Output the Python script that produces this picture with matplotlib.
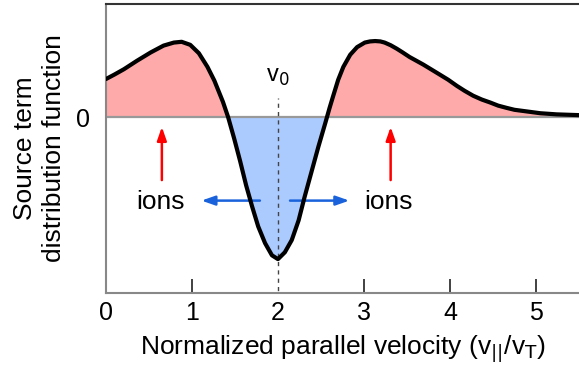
import matplotlib.pyplot as plt
import numpy as np

plt.rcParams["font.family"] = ["Liberation Sans", "DejaVu Sans"]

# source term (v in units of v_T)
velocity = [0.00, 0.10, 0.21, 0.36, 0.52, 0.67, 0.79, 0.88, 0.98, 1.08, 1.18, 1.26,
            1.31, 1.36, 1.42, 1.49, 1.56, 1.63, 1.70, 1.77, 1.85, 1.93, 2.00, 2.08,
            2.16, 2.24, 2.31, 2.39, 2.47, 2.55, 2.60, 2.64, 2.70, 2.76, 2.84, 2.92,
            3.01, 3.07, 3.13, 3.19, 3.24, 3.31, 3.38, 3.45, 3.53, 3.61, 3.69, 3.77,
            3.85, 3.98, 4.08, 4.17, 4.27, 4.37, 4.47, 4.56, 4.66, 4.75, 4.85, 5.05,
            5.24, 5.50]
source = [0.50, 0.56, 0.63, 0.74, 0.85, 0.94, 0.98, 0.99, 0.95, 0.84, 0.66, 0.48,
          0.34, 0.20, 0.00, -0.28, -0.58, -0.90, -1.18, -1.44, -1.66, -1.82, -1.87,
          -1.78, -1.62, -1.36, -1.05, -0.72, -0.39, -0.08, 0.12, 0.27, 0.49, 0.66,
          0.82, 0.92, 0.98, 0.995, 1.00, 0.995, 0.98, 0.945, 0.90, 0.85, 0.79, 0.74,
          0.69, 0.635, 0.58, 0.49, 0.41, 0.345, 0.28, 0.23, 0.19, 0.15, 0.12, 0.095,
          0.08, 0.05, 0.035, 0.025]

v0 = 2.0
xticks = [0, 1, 2, 3, 4, 5]
ion_x = [0.65, 3.31]

v = np.array(velocity)
s = np.array(source)

fig = plt.figure(figsize=(5.79, 3.67), dpi=100)
ax = fig.add_axes([0.183, 0.2016, 0.817, 0.7874])

ax.fill_between(v, s, 0, where=s >= 0, interpolate=True, color="#ffaaaa", lw=0)
ax.fill_between(v, s, 0, where=s <= 0, interpolate=True, color="#abcbff", lw=0)
ax.axhline(0, color="#999999", lw=1.6, zorder=2)
ax.plot([v0, v0], [-2.4, 0.25], ls=(0, (3, 3)), color="#444444", lw=1, zorder=3)
ax.plot(v, s, color="black", lw=3, zorder=4, solid_joinstyle="round",
        solid_capstyle="round")

ax.text(v0, 0.46, "v$_0$", ha="center", va="baseline", fontsize=17)

arrow_style = "-|>,head_length=0.8,head_width=0.28"

# ions released: red arrows up
for xi in ion_x:
    ax.annotate("", xy=(xi, -0.13), xytext=(xi, -0.83),
                arrowprops=dict(arrowstyle=arrow_style, color="#ff0000", lw=1.8,
                                shrinkA=0, shrinkB=0))
    ax.text(xi - 0.02, -1.12, "ions", ha="center", va="center", fontsize=19)

# blue arrows pushing out from v0
ax.annotate("", xy=(1.11, -1.1), xytext=(1.79, -1.1),
            arrowprops=dict(arrowstyle=arrow_style, color="#1a62dc", lw=1.8,
                            shrinkA=0, shrinkB=0))
ax.annotate("", xy=(2.83, -1.1), xytext=(2.14, -1.1),
            arrowprops=dict(arrowstyle=arrow_style, color="#1a62dc", lw=1.8,
                            shrinkA=0, shrinkB=0))

ax.set_xlim(0, 5.5)
ax.set_ylim(-2.316, 1.487)
ax.set_xticks(xticks)
ax.set_yticks([0])
ax.tick_params(axis="x", direction="in", length=10, width=1.3, color="#333333",
               labelsize=18, pad=6)
ax.tick_params(axis="y", length=0, labelsize=18, pad=11.5)
ax.xaxis.get_major_ticks()[0].tick1line.set_visible(False)
ax.xaxis.get_major_ticks()[2].tick1line.set_visible(False)

for side in ["left", "bottom"]:
    ax.spines[side].set_color("#888888")
    ax.spines[side].set_linewidth(1.5)
ax.spines["top"].set_color("#333333")
ax.spines["top"].set_linewidth(1.5)
ax.spines["right"].set_visible(False)

ax.set_xlabel("Normalized parallel velocity (v$_{||}$/v$_\\mathrm{T}$)", fontsize=19,
              labelpad=6)
ax.set_ylabel("Source term\ndistribution function", fontsize=19, linespacing=1.25)
ax.yaxis.set_label_coords(-0.085, 0.5)

fig.savefig("out.png", dpi=100)
